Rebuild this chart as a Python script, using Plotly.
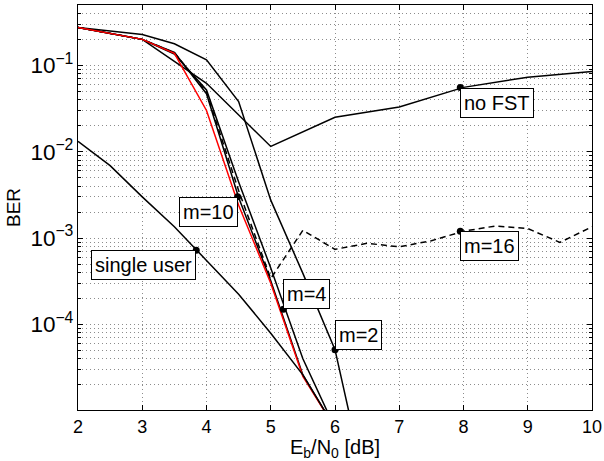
import numpy as np
import plotly.graph_objects as go

# ---- data ----
ebn0_half = [2, 3, 3.5, 4, 4.5, 5, 5.5, 6]
ebn0_m2 = [2, 3, 3.5, 4, 4.5, 5, 5.5, 6, 6.5]
ebn0_int = [2, 3, 4, 5, 6, 7, 8, 9, 10]
ebn0_m16 = [2, 3, 3.5, 4, 4.5, 5, 5.5, 6, 6.5, 7, 7.5, 8, 8.5, 9, 9.5, 10]
ebn0_su = [2, 2.5, 3, 3.5, 4, 4.5, 5, 5.5, 6]

ber_nofst = [0.275, 0.200, 0.062, 0.0115, 0.025, 0.033, 0.0556, 0.073, 0.085]
ber_m2 = [0.275, 0.227, 0.178, 0.116, 0.038, 0.00275, 3.9e-4, 5.1e-5, 1.1e-6]
ber_m4 = [0.275, 0.200, 0.135, 0.052, 0.00447, 4.5e-4, 4.0e-5, 6.3e-6]
ber_m10 = [0.275, 0.200, 0.141, 0.047, 0.00295, 3.2e-4, 2.6e-5, 6.3e-6]
ber_m16 = [0.275, 0.200, 0.140, 0.049, 0.00355, 3.4e-4, 1.23e-3, 7.4e-4, 8.7e-4,
           7.9e-4, 9.3e-4, 1.2e-3, 1.38e-3, 1.29e-3, 8.9e-4, 1.35e-3]
ber_red = [0.275, 0.200, 0.138, 0.030, 0.0024, 3.0e-4, 2.5e-5, 6.3e-6]
ber_su = [0.0132, 0.0069, 0.0030, 0.00135, 5.5e-4, 2.24e-4, 7.9e-5, 2.6e-5, 6.3e-6]

label_text = ["no FST", "m=16", "m=2", "m=4", "m=10", "single user"]
label_x = [7.95, 7.95, 6.0, 5.196, 4.485, 3.84]
label_y = [0.0553, 1.2e-3, 5.1e-5, 1.5e-4, 3.0e-3, 7.2e-4]
label_xanchor = ["left", "left", "left", "left", "right", "right"]
label_yanchor = ["top", "top", "bottom", "bottom", "top", "top"]

FONT = "Liberation Sans, Arial, Helvetica, sans-serif"
black = dict(color="black", width=1.5)

fig = go.Figure()
fig.add_trace(go.Scatter(x=ebn0_int, y=ber_nofst, mode="lines", line=black))
fig.add_trace(go.Scatter(x=ebn0_m2, y=ber_m2, mode="lines", line=black))
fig.add_trace(go.Scatter(x=ebn0_half, y=ber_m4, mode="lines", line=black))
fig.add_trace(go.Scatter(x=ebn0_half, y=ber_m10, mode="lines", line=black))
fig.add_trace(go.Scatter(x=ebn0_m16, y=ber_m16, mode="lines",
                         line=dict(color="black", width=1.5, dash="6px,4px")))
fig.add_trace(go.Scatter(x=ebn0_half, y=ber_red, mode="lines",
                         line=dict(color="#ff0000", width=1.5)))
fig.add_trace(go.Scatter(x=ebn0_su, y=ber_su, mode="lines", line=black))
fig.add_trace(go.Scatter(x=label_x, y=label_y, mode="markers",
                         marker=dict(color="black", size=7)))

for t, x, y, xa, ya in zip(label_text, label_x, label_y, label_xanchor, label_yanchor):
    fig.add_annotation(x=x, y=np.log10(y), text=t, showarrow=False,
                       xanchor=xa, yanchor=ya,
                       font=dict(family=FONT, size=20, color="black"),
                       bgcolor="white", bordercolor="black", borderwidth=1,
                       borderpad=3)

grid = dict(showgrid=True, gridcolor="#8c8c8c", griddash="1px,3px", gridwidth=1)
fig.update_xaxes(range=[2, 10], dtick=1, ticks="inside", ticklen=5,
                 tickcolor="black", showline=True, linecolor="black", linewidth=1,
                 mirror="ticks", zeroline=False, automargin=False,
                 tickfont=dict(family=FONT, size=18, color="black"),
                 title=dict(text="E<sub>b</sub>/N<sub>0</sub> [dB]",
                            font=dict(family=FONT, size=20, color="black"),
                            standoff=0),
                 **grid)
fig.update_yaxes(type="log", range=[np.log10(1.02e-5), np.log10(0.5)], dtick=1,
                 exponentformat="power", showexponent="all",
                 ticks="inside", ticklen=5, tickcolor="black",
                 showline=True, linecolor="black", linewidth=1, mirror="ticks",
                 zeroline=False, automargin=False,
                 tickfont=dict(family=FONT, size=18, color="black"),
                 title=dict(text="BER", font=dict(family=FONT, size=19, color="black"),
                            standoff=4),
                 minor=dict(dtick="D1", ticks="inside", ticklen=3, tickcolor="black",
                            showgrid=True, gridcolor="#8c8c8c", griddash="1px,3px",
                            gridwidth=1),
                 **grid)
fig.update_layout(width=604, height=461, showlegend=False,
                  margin=dict(l=78, r=12, t=5, b=51),
                  paper_bgcolor="white", plot_bgcolor="white",
                  font=dict(family=FONT, color="black"))
fig.write_html("out.html", config={"displayModeBar": False},
               post_script="document.body.style.margin='0';document.body.style.padding='0';document.body.style.overflow='hidden';")
